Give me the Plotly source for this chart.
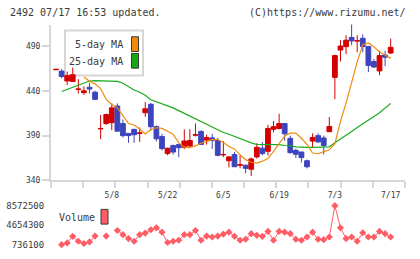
import numpy as np
import plotly.graph_objects as go

W, H = 420, 259

# ---------------- data ----------------
idx = list(range(61))

opens = [463.5, 462, 451, 450.5, 441.5, 438, 444, 438.5, 397.5, 403.5,
         404.5, 423, 403.5, 392.5, 397, 392.5, 415.5, 425, 400, 389,
         370, 379, 380, 377, 378.5, 390.5, 394.7, 385, 387.5, 384.5,
         368.5, 362, 369, 357, 357, 352.5, 366.3, 376, 372.5, 397,
         398, 403.5, 387, 373.6, 371.7, 362, 384, 390, 387.4, 394.4,
         455, 485.5, 489.3, 499.5, 495.5, 498.6, 489.6, 472.7, 462.2, 480,
         482.2]
highs = [464, 464, 461.5, 466, 453, 445, 449, 440, 413, 414.5,
         426, 426, 408, 392.5, 397.5, 399, 427.5, 426.5, 401.5, 392,
         376.5, 380, 381, 397, 397, 403.5, 396, 391, 392, 387.5,
         384, 367, 371.7, 368, 357.5, 365.5, 381.6, 382.7, 402, 406.4,
         414.4, 404, 390, 375.3, 372, 363.3, 392.5, 392.5, 390, 410.8,
         480.4, 496.5, 502, 520, 502, 503, 490, 475.7, 484.7, 484.7,
         498.3]
lows = [463.5, 454, 446.5, 450, 437, 435.5, 437, 430, 386, 402,
        396, 394.5, 388, 382, 382, 383, 411, 395.5, 383.5, 373.5,
        368, 369, 366, 375, 377, 389, 380, 380, 375, 367,
        366, 354.5, 355, 353.5, 348, 345, 364.4, 368, 368, 393.6,
        397, 384.5, 370, 365, 360, 353.5, 376.5, 382, 369, 394,
        430.8, 472.7, 481, 491, 483, 483, 461, 465.5, 457.4, 467.6,
        481]
closes = [464, 456, 457, 458, 442, 440, 442, 430.5, 398, 413.5,
          421, 395, 390, 390, 391, 393, 420, 400, 386.5, 375.5,
          376, 371.7, 376.5, 384, 384.5, 391, 380.2, 388, 384.5, 368,
          369, 366.3, 355.3, 357.5, 353.5, 364, 377, 370, 398, 400,
          403.5, 392, 371, 369.2, 365.5, 355.3, 388, 383, 379, 400.2,
          479.3, 490, 496.5, 495.7, 496, 489.3, 468.4, 466.6, 479.3, 477.5,
          488.5]

ma5 = [None, None, None, None, None, 455.4, 450.6, 447.8, 442.5, 430.5,
       424.8, 421, 411.6, 403.5, 401.9, 397.4, 391.8, 396.8, 398.8, 398.1,
       395, 391.6, 381.9, 377.2, 376.7, 378.5, 381.5, 383.2, 385.5, 385.6,
       382.3, 377.9, 375.2, 368.6, 363.2, 360.3, 359.3, 361.5, 364.4, 372.5,
       381.8, 389.7, 392.7, 392.9, 387.1, 380.2, 370.6, 369.8, 372.2, 374.2,
       381.1, 405.9, 426.3, 449, 472.3, 491.5, 493.5, 489.2, 483.2, 479.9,
       476.2]

ma25 = [None, 439.2, 441.5, 444, 446.5, 448.5, 451, 451.3, 451.3, 451.3,
        451, 450.5, 448.5, 445, 441, 438.5, 435, 430, 427.8, 425.9,
        424, 421, 417.9, 414.7, 411.6, 408.6, 405.5, 402.6, 399.6, 396.6,
        393.5, 391.5, 389, 386.5, 384.7, 382, 380.1, 380.1, 380.1, 380,
        380, 379, 378.7, 377.5, 377, 377, 377, 377, 377, 377.5,
        382, 386, 390.5, 394.7, 399, 403.5, 407.4, 411.5, 415.5, 420.5,
        426]

volume = [None, 736100, 1090000, 2410000, 1425000, 972000, 1287000, 2469000, None, 2469000,
          None, 3591000, 2744000, 1957000, 1425000, 2744000, 3060000, 3729000, 4122000, 3256000,
          1169000, 1425000, 1622000, 2744000, 2744000, 3591000, 1622000, 2469000, 2272000, 2469000,
          2850000, 3256000, 2410000, 1622000, 1819000, 2941000, 2607000, 2410000, 3394000, 1622000,
          3394000, 3256000, 2941000, 1819000, 1622000, 2272000, 3256000, 1819000, 1750000, 2272000,
          8572500, 4122000, 1957000, 2272000, 1425000, 3138000, 2272000, 2272000, 3394000, 2941000,
          2272000]

date_ticks = [10, 20, 30, 40, 50, 60]
date_labels = ["5/8", "5/22", "6/5", "6/19", "7/3", "7/17"]
price_ticks = [340, 390, 440, 490]
vol_ticks = [736100, 4654300, 8572500]
vol_labels = ["736100", "4654300", "8572500"]

# ---------------- style ----------------
RED = "#D40000"
BLUE = "#3C44BE"
ORANGE = "#F08C0A"
GREEN = "#1AAA1A"
VOLC = "#FF5C66"
AXC = "#D6D6D6"
TXT = "#3A3A3A"
MONO = "DejaVu Sans Mono"

X_RANGE = [-0.9, 62.57]
Y_RANGE = [340, 514]
V_RANGE = [-149900, 9497900]


def px(x):
    return x / W


def py(y):
    return 1 - y / H


fig = go.Figure()

fig.add_trace(go.Candlestick(
    x=idx, open=opens, high=highs, low=lows, close=closes,
    increasing=dict(line=dict(color=RED, width=1), fillcolor=RED),
    decreasing=dict(line=dict(color=BLUE, width=1), fillcolor=BLUE),
    whiskerwidth=0, xaxis="x", yaxis="y", hoverinfo="skip",
))
fig.add_trace(go.Scatter(x=idx, y=ma25, mode="lines",
                         line=dict(color=GREEN, width=1.2),
                         xaxis="x", yaxis="y", hoverinfo="skip"))
fig.add_trace(go.Scatter(x=idx, y=ma5, mode="lines",
                         line=dict(color=ORANGE, width=1.2),
                         xaxis="x", yaxis="y", hoverinfo="skip"))
fig.add_trace(go.Scatter(x=idx, y=volume, mode="lines+markers",
                         line=dict(color=VOLC, width=1),
                         marker=dict(symbol="diamond", size=5.5, color=VOLC),
                         connectgaps=False,
                         xaxis="x3", yaxis="y2", hoverinfo="skip"))

minor_x = list(np.linspace(-0.896, 62.56, 12))

fig.update_layout(
    width=W, height=H,
    margin=dict(l=0, r=0, t=0, b=0),
    paper_bgcolor="white", plot_bgcolor="white",
    showlegend=False,
    boxgap=0.15, boxgroupgap=0,
    xaxis=dict(
        domain=[px(51), px(405)], range=X_RANGE, anchor="y",
        showline=True, linecolor=AXC, linewidth=2,
        tickvals=date_ticks, ticktext=date_labels,
        ticks="outside", ticklen=6, tickcolor="rgba(0,0,0,0)",
        tickfont=dict(family=MONO, size=8, color=TXT),
        minor=dict(tickvals=minor_x, ticks="outside", ticklen=6,
                   tickwidth=2, tickcolor=AXC, showgrid=False),
        showgrid=False, zeroline=False,
        rangeslider=dict(visible=False), fixedrange=True,
    ),
    yaxis=dict(
        domain=[py(184), py(25)], range=Y_RANGE, anchor="x",
        showline=True, linecolor=AXC, linewidth=2,
        tickvals=price_ticks,
        ticks="outside", ticklen=7, tickwidth=2, tickcolor=AXC,
        tickfont=dict(family=MONO, size=8, color=TXT),
        showgrid=False, zeroline=False, fixedrange=True,
    ),
    xaxis3=dict(
        domain=[px(51), px(405)], range=X_RANGE, anchor="y2",
        visible=False, fixedrange=True,
    ),
    yaxis2=dict(
        domain=[py(254), py(205)], range=V_RANGE, anchor="x3",
        showline=False, tickvals=vol_ticks, ticktext=vol_labels,
        ticks="outside", ticklen=4, tickcolor="rgba(0,0,0,0)",
        tickfont=dict(family=MONO, size=9, color=TXT),
        showgrid=False, zeroline=False, fixedrange=True,
    ),
)

shapes = [
    # price legend box
    dict(type="rect", xref="paper", yref="paper", layer="below",
         x0=px(65), x1=px(143), y0=py(77), y1=py(31),
         line=dict(color=AXC, width=2), fillcolor="white"),
    dict(type="rect", xref="paper", yref="paper",
         x0=px(131.5), x1=px(138.5), y0=py(52.5), y1=py(37.5),
         line=dict(color="#3A3A3A", width=1), fillcolor=ORANGE),
    dict(type="rect", xref="paper", yref="paper",
         x0=px(131.5), x1=px(138.5), y0=py(69.5), y1=py(54.5),
         line=dict(color="#3A3A3A", width=1), fillcolor="#14A814"),
    # volume legend
    dict(type="rect", xref="paper", yref="paper",
         x0=px(101), x1=px(108), y0=py(228.5), y1=py(213.5),
         line=dict(color="#3A3A3A", width=1), fillcolor=VOLC),
]

annotations = [
    dict(text="2492 07/17 16:53 updated.", xref="paper", yref="paper",
         x=px(8), y=py(13), xanchor="left", yanchor="middle", showarrow=False,
         font=dict(family=MONO, size=10, color=TXT)),
    dict(text="(C)https://www.rizumu.net/", xref="paper", yref="paper",
         x=px(408), y=py(13), xanchor="right", yanchor="middle", showarrow=False,
         font=dict(family=MONO, size=10, color=TXT)),
    dict(text="5-day MA", xref="paper", yref="paper",
         x=px(125), y=py(45.5), xanchor="right", yanchor="middle", showarrow=False,
         font=dict(family=MONO, size=10, color=TXT)),
    dict(text="25-day MA", xref="paper", yref="paper",
         x=px(125), y=py(62.5), xanchor="right", yanchor="middle", showarrow=False,
         font=dict(family=MONO, size=10, color=TXT)),
    dict(text="Volume", xref="paper", yref="paper",
         x=px(57), y=py(222), xanchor="left", yanchor="middle", showarrow=False,
         font=dict(family=MONO, size=10, color=TXT)),
]

fig.update_layout(shapes=shapes, annotations=annotations)

fig.write_html("out.html")
